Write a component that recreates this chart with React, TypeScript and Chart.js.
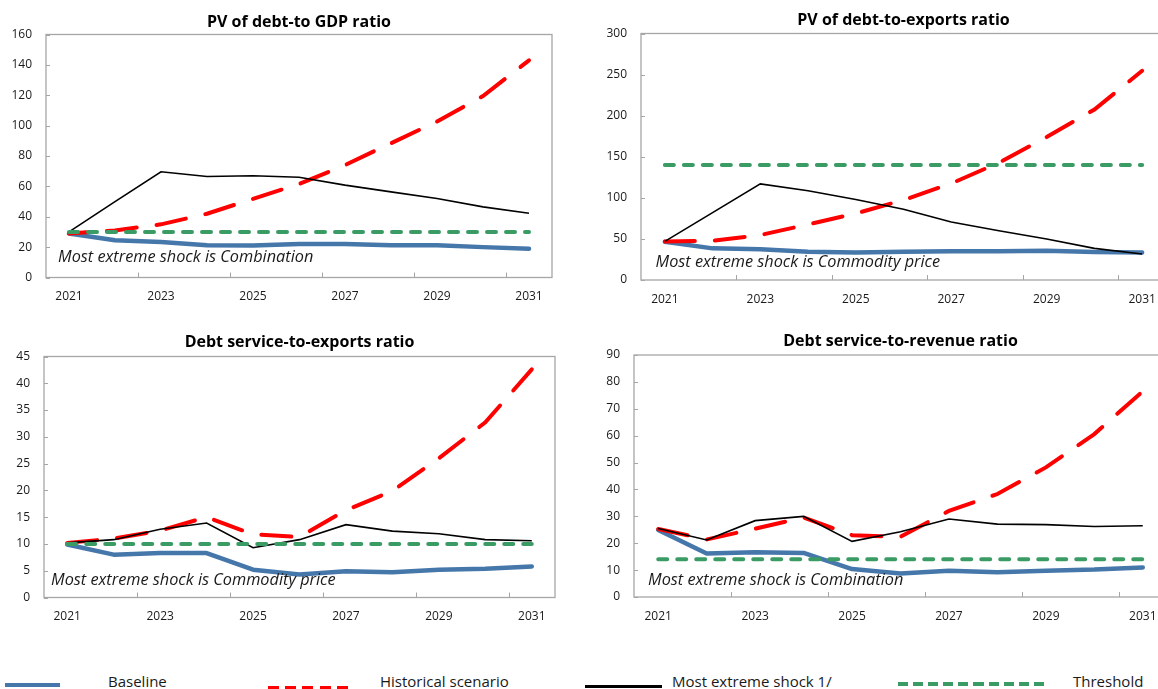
import React, { useEffect, useRef } from 'react';
import { Chart, registerables } from 'chart.js';

Chart.register(...registerables);

const FONT = '"Open Sans", "Noto Sans", "DejaVu Sans", sans-serif';
const BLUE = '#4677aa';
const RED = '#ff0000';
const GREEN = '#3a9c64';
const BLACK = '#000000';
const AXIS = '#a6a6a6';
const TEXT = '#1a1a1a';

const years = ['2021', '2022', '2023', '2024', '2025', '2026', '2027', '2028', '2029', '2030', '2031'];

// PV of debt-to GDP ratio
const gdpBaseline = [29, 24.5, 23.3, 21.2, 21, 22, 22, 21.2, 21.2, 20, 19];
const gdpHistorical = [29, 31, 35, 42, 51.8, 61.5, 74, 88.4, 102.7, 119.5, 143];
const gdpShock = [30, 50, 69.6, 66.5, 67, 66, 60.8, 56.4, 52, 46.5, 42.3];
const gdpThreshold = [30, 30, 30, 30, 30, 30, 30, 30, 30, 30, 30];

// PV of debt-to-exports ratio
const expBaseline = [46.6, 38.5, 37.3, 34.5, 33.6, 34.5, 35, 35, 35.7, 34, 33.6];
const expHistorical = [47, 47.8, 54.7, 67.7, 81, 97.3, 117.5, 142.7, 174, 207.5, 254.6];
const expShock = [47, 82, 117, 108.6, 98, 86, 70.5, 60, 50, 38.5, 31.6];
const expThreshold = [140, 140, 140, 140, 140, 140, 140, 140, 140, 140, 140];

// Debt service-to-exports ratio
const dsxBaseline = [9.9, 8, 8.3, 8.3, 5.2, 4.3, 4.9, 4.7, 5.2, 5.35, 5.8];
const dsxHistorical = [10.2, 11, 12.5, 15, 11.8, 11.3, 16.3, 19.9, 26, 32.7, 42.6];
const dsxShock = [10.2, 10.8, 12.75, 13.9, 9.3, 10.8, 13.6, 12.4, 11.9, 10.8, 10.6];
const dsxThreshold = [10, 10, 10, 10, 10, 10, 10, 10, 10, 10, 10];

// Debt service-to-revenue ratio
const dsrBaseline = [24.9, 16.2, 16.6, 16.4, 10.4, 8.7, 9.8, 9.2, 9.8, 10.2, 11];
const dsrHistorical = [25.3, 21.4, 25.4, 29.6, 23, 22.4, 32, 38.3, 48.2, 60.6, 76.5];
const dsrShock = [25.5, 21.2, 28.4, 30, 20.7, 24.3, 29, 27.1, 26.9, 26.2, 26.5];
const dsrThreshold = [14, 14, 14, 14, 14, 14, 14, 14, 14, 14, 14];

const legendLabels = ['Baseline', 'Historical scenario', 'Most extreme shock 1/', 'Threshold'];

type Spec = {
  title: string;
  note: string;
  baseline: number[];
  historical: number[];
  shock: number[];
  threshold: number[];
  yMax: number;
  yStep: number;
  left: number;
  top: number;
  width: number;
  height: number;
  area: { l: number; t: number; r: number; b: number };
  titleGap: number;
  noteDx: number;
  noteDy: number;
  dashOffset: number;
};

const panels: Spec[] = [
  {
    title: 'PV of debt-to GDP ratio',
    note: 'Most extreme shock is Combination',
    baseline: gdpBaseline, historical: gdpHistorical, shock: gdpShock, threshold: gdpThreshold,
    yMax: 160, yStep: 20,
    left: 0, top: 0, width: 580, height: 320,
    area: { l: 46, t: 34.5, r: 552, b: 277.5 },
    titleGap: 8, noteDx: 12, noteDy: 16, dashOffset: 12,
  },
  {
    title: 'PV of debt-to-exports ratio',
    note: 'Most extreme shock is Commodity price',
    baseline: expBaseline, historical: expHistorical, shock: expShock, threshold: expThreshold,
    yMax: 300, yStep: 50,
    left: 580, top: 0, width: 600, height: 320,
    area: { l: 641, t: 33.5, r: 1166, b: 280 },
    titleGap: 8.5, noteDx: 14.5, noteDy: 13.5, dashOffset: 0,
  },
  {
    title: 'Debt service-to-exports ratio',
    note: 'Most extreme shock is Commodity price',
    baseline: dsxBaseline, historical: dsxHistorical, shock: dsxShock, threshold: dsxThreshold,
    yMax: 45, yStep: 5,
    left: 0, top: 320, width: 580, height: 320,
    area: { l: 44, t: 356.5, r: 555, b: 597.5 },
    titleGap: 9.5, noteDx: 7, noteDy: 12.5, dashOffset: 0,
  },
  {
    title: 'Debt service-to-revenue ratio',
    note: 'Most extreme shock is Combination',
    baseline: dsrBaseline, historical: dsrHistorical, shock: dsrShock, threshold: dsrThreshold,
    yMax: 90, yStep: 10,
    left: 580, top: 320, width: 600, height: 320,
    area: { l: 634, t: 355, r: 1167, b: 597 },
    titleGap: 9, noteDx: 14, noteDy: 12.5, dashOffset: 0,
  },
];

function Panel({ spec }: { spec: Spec }) {
  const ref = useRef<HTMLCanvasElement>(null);
  useEffect(() => {
    if (!ref.current) return;
    const Y_W = 40;
    const X_H = 30;
    const a = spec.area;
    const decor = {
      id: 'decor',
      beforeDatasetsDraw(chart: any) {
        const { ctx, chartArea: ca, scales } = chart;
        ctx.save();
        ctx.strokeStyle = AXIS;
        ctx.lineWidth = 1.3;
        ctx.strokeRect(ca.left, ca.top, ca.right - ca.left, ca.bottom - ca.top);
        ctx.lineWidth = 1;
        const ys = scales.y;
        ys.ticks.forEach((t: any) => {
          const py = Math.round(ys.getPixelForValue(t.value)) + 0.5;
          ctx.beginPath();
          ctx.moveTo(ca.left, py);
          ctx.lineTo(ca.left + 4, py);
          ctx.stroke();
        });
        const xs = scales.x;
        for (let i = 2; i < years.length; i += 2) {
          const px = Math.round((xs.getPixelForValue(i - 1) + xs.getPixelForValue(i)) / 2) + 0.5;
          ctx.beginPath();
          ctx.moveTo(px, ca.bottom);
          ctx.lineTo(px, ca.bottom - 5);
          ctx.stroke();
        }
        ctx.restore();
      },
      afterDatasetsDraw(chart: any) {
        const { ctx, chartArea: ca } = chart;
        ctx.save();
        ctx.fillStyle = '#000';
        ctx.font = `bold 16px ${FONT}`;
        ctx.textAlign = 'center';
        ctx.textBaseline = 'alphabetic';
        ctx.fillText(spec.title, (ca.left + ca.right) / 2, ca.top - spec.titleGap);
        ctx.font = `italic 16.3px ${FONT}`;
        ctx.textAlign = 'left';
        ctx.fillStyle = TEXT;
        ctx.fillText(spec.note, ca.left + spec.noteDx, ca.bottom - spec.noteDy);
        ctx.restore();
      },
    };
    const tickFont = { family: FONT, size: 12 };
    const chart = new Chart(ref.current, {
      type: 'line',
      data: {
        labels: years,
        datasets: [
          {
            label: legendLabels[0], data: spec.baseline, borderColor: BLUE, backgroundColor: BLUE,
            borderWidth: 4.5, pointRadius: 0, tension: 0, borderJoinStyle: 'round', borderCapStyle: 'round', order: 4,
          },
          {
            label: legendLabels[1], data: spec.historical, borderColor: RED, backgroundColor: RED,
            borderWidth: 4, pointRadius: 0, tension: 0, borderDash: [30, 20], borderDashOffset: spec.dashOffset,
            borderCapStyle: 'round', order: 3,
          },
          {
            label: legendLabels[2], data: spec.shock, borderColor: BLACK, backgroundColor: BLACK,
            borderWidth: 1.6, pointRadius: 0, tension: 0, order: 2,
          },
          {
            label: legendLabels[3], data: spec.threshold, borderColor: GREEN, backgroundColor: GREEN,
            borderWidth: 4, pointRadius: 0, tension: 0, borderDash: [9, 10], borderCapStyle: 'round', order: 1,
          },
        ] as any,
      },
      options: {
        animation: false,
        responsive: false,
        maintainAspectRatio: false,
        events: [],
        layout: {
          padding: {
            left: a.l - spec.left - Y_W,
            top: a.t - spec.top,
            right: spec.left + spec.width - a.r,
            bottom: spec.top + spec.height - a.b - X_H,
          },
        },
        plugins: {
          legend: { display: false },
          tooltip: { enabled: false },
          title: { display: false },
        },
        scales: {
          x: {
            type: 'category',
            offset: true,
            grid: { display: false, drawTicks: false },
            border: { display: false },
            ticks: {
              autoSkip: false,
              maxRotation: 0,
              minRotation: 0,
              padding: 12,
              color: TEXT,
              font: tickFont,
              callback: function (this: any, val: any, idx: number) {
                return idx % 2 === 0 ? this.getLabelForValue(val) : '';
              },
            },
            afterFit: (s: any) => { s.height = X_H; },
          },
          y: {
            min: 0,
            max: spec.yMax,
            grid: { display: false, drawTicks: false },
            border: { display: false },
            ticks: { stepSize: spec.yStep, padding: 14, color: TEXT, font: tickFont },
            afterFit: (s: any) => { s.width = Y_W; },
          },
        },
      } as any,
      plugins: [decor],
    });
    return () => chart.destroy();
  }, [spec]);
  return (
    <canvas
      ref={ref}
      width={spec.width}
      height={spec.height}
      style={{ position: 'absolute', left: spec.left, top: spec.top, width: spec.width, height: spec.height }}
    />
  );
}

const legendText: React.CSSProperties = {
  position: 'absolute',
  top: 670.7,
  fontFamily: FONT,
  fontSize: 15,
  lineHeight: '20px',
  color: TEXT,
  whiteSpace: 'nowrap',
};

function Legend() {
  return (
    <>
      <div style={{ position: 'absolute', left: 5, top: 682.5, width: 55, height: 4, background: BLUE }} />
      <span style={{ ...legendText, left: 108 }}>{legendLabels[0]}</span>
      <div
        style={{
          position: 'absolute', left: 268, top: 685.5, width: 80, height: 4,
          background: `repeating-linear-gradient(to right, ${RED} 0px, ${RED} 11px, transparent 11px, transparent 17.25px)`,
        }}
      />
      <span style={{ ...legendText, left: 380 }}>{legendLabels[1]}</span>
      <div style={{ position: 'absolute', left: 585, top: 684.5, width: 77, height: 3, background: BLACK }} />
      <span style={{ ...legendText, left: 672 }}>{legendLabels[2]}</span>
      <div
        style={{
          position: 'absolute', left: 898, top: 682, width: 146, height: 4,
          background: `repeating-linear-gradient(to right, ${GREEN} 0px, ${GREEN} 10px, transparent 10px, transparent 15.1px)`,
        }}
      />
      <span style={{ ...legendText, left: 1073 }}>{legendLabels[3]}</span>
    </>
  );
}

export default function App() {
  return (
    <div
      style={{
        position: 'fixed', left: 0, top: 0, width: 1158, height: 689,
        overflow: 'hidden', background: '#ffffff',
      }}
    >
      {panels.map((p) => (
        <Panel key={p.title} spec={p} />
      ))}
      <Legend />
    </div>
  );
}
